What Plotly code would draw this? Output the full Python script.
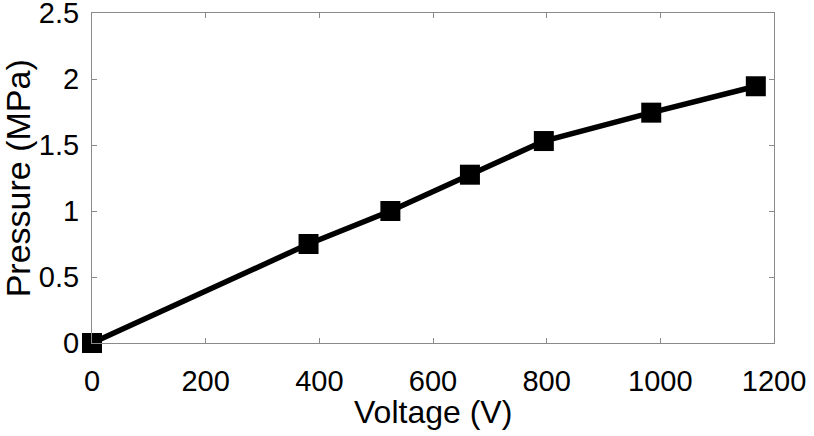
import plotly.graph_objects as go

voltage = [0, 381, 525, 665, 795, 984, 1168]
pressure = [0, 0.75, 1.0, 1.275, 1.53, 1.745, 1.945]
x_ticks = [0, 200, 400, 600, 800, 1000, 1200]
y_ticks = [0, 0.5, 1, 1.5, 2, 2.5]
y_tick_text = ["0", "0.5", "1", "1.5", "2", "2.5"]

FAM = "Liberation Sans, Arial, sans-serif"

fig = go.Figure()
fig.add_trace(go.Scatter(
    x=voltage, y=pressure, mode="lines+markers",
    line=dict(color="black", width=5.5),
    marker=dict(symbol="square", size=20, color="black"),
    cliponaxis=False, showlegend=False,
))

font = dict(family=FAM, size=29, color="black")
axis_common = dict(
    showline=True, linecolor="#8a8a8a", linewidth=1, mirror="ticks",
    ticks="inside", ticklen=5, tickcolor="#8a8a8a", tickwidth=1,
    showgrid=False, zeroline=False, tickfont=font,
    automargin=False, ticklabeloverflow="allow",
)
fig.update_layout(
    width=814, height=436,
    margin=dict(l=92, r=40, t=13, b=93),
    paper_bgcolor="white", plot_bgcolor="white",
    xaxis=dict(range=[0, 1200], tickvals=x_ticks, ticklabelstandoff=12, **axis_common),
    yaxis=dict(range=[0, 2.5], tickvals=y_ticks, ticktext=y_tick_text, ticklabelstandoff=6, **axis_common),
    annotations=[
        dict(text="Voltage (V)", xref="paper", yref="paper", x=0.5, y=-0.21,
             xanchor="center", yanchor="middle", showarrow=False,
             font=dict(family=FAM, size=32, color="black")),
        dict(text="Pressure (MPa)", xref="paper", yref="paper", x=-0.108, y=0.5,
             xanchor="center", yanchor="middle", showarrow=False, textangle=-90,
             font=dict(family=FAM, size=34, color="black")),
    ],
)
fig.write_html("out.html", config={"displayModeBar": False},
               post_script="document.body.style.margin='0';")
